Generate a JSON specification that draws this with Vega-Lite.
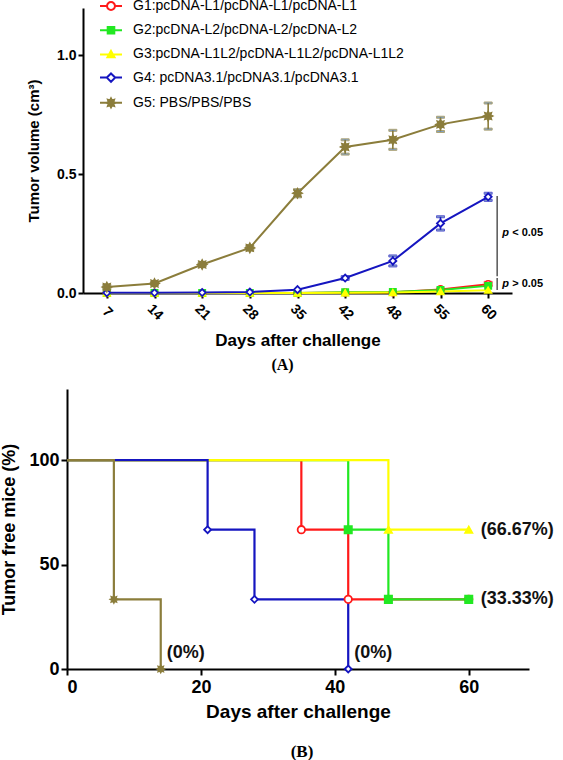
{
  "$schema": "https://vega.github.io/schema/vega-lite/v6.json",
  "background": "white",
  "padding": {"left": 0, "top": -6, "right": 0, "bottom": 0},
  "spacing": 16,
  "resolve": {
    "scale": {"x": "independent", "y": "independent", "color": "independent", "stroke": "independent", "fill": "independent", "shape": "independent", "size": "independent"},
    "legend": {"color": "independent", "stroke": "independent", "fill": "independent", "shape": "independent", "size": "independent"}
  },
  "datasets": {
    "a": [
      {"g": "G1", "d": 7, "v": 0}, {"g": "G1", "d": 14, "v": 0}, {"g": "G1", "d": 21, "v": 0}, {"g": "G1", "d": 28, "v": 0}, {"g": "G1", "d": 35, "v": 0},
      {"g": "G1", "d": 42, "v": 0.002}, {"g": "G1", "d": 48, "v": 0.003}, {"g": "G1", "d": 55, "v": 0.015}, {"g": "G1", "d": 60, "v": 0.037, "lo": 0.03, "hi": 0.045},
      {"g": "G2", "d": 7, "v": 0}, {"g": "G2", "d": 14, "v": 0}, {"g": "G2", "d": 21, "v": 0}, {"g": "G2", "d": 28, "v": 0}, {"g": "G2", "d": 35, "v": 0},
      {"g": "G2", "d": 42, "v": 0.003}, {"g": "G2", "d": 48, "v": 0.004}, {"g": "G2", "d": 55, "v": 0.013}, {"g": "G2", "d": 60, "v": 0.03},
      {"g": "G3", "d": 7, "v": 0}, {"g": "G3", "d": 14, "v": 0}, {"g": "G3", "d": 21, "v": 0}, {"g": "G3", "d": 28, "v": 0}, {"g": "G3", "d": 35, "v": 0},
      {"g": "G3", "d": 42, "v": 0.001}, {"g": "G3", "d": 48, "v": 0.002}, {"g": "G3", "d": 55, "v": 0.006}, {"g": "G3", "d": 60, "v": 0.012},
      {"g": "G4", "d": 7, "v": 0.001}, {"g": "G4", "d": 14, "v": 0.001}, {"g": "G4", "d": 21, "v": 0.002}, {"g": "G4", "d": 28, "v": 0.004}, {"g": "G4", "d": 35, "v": 0.014},
      {"g": "G4", "d": 42, "v": 0.063, "lo": 0.057, "hi": 0.069}, {"g": "G4", "d": 48, "v": 0.135, "lo": 0.114, "hi": 0.156}, {"g": "G4", "d": 55, "v": 0.293, "lo": 0.265, "hi": 0.321}, {"g": "G4", "d": 60, "v": 0.405, "lo": 0.39, "hi": 0.42},
      {"g": "G5", "d": 7, "v": 0.025, "lo": 0.017, "hi": 0.033}, {"g": "G5", "d": 14, "v": 0.04, "lo": 0.034, "hi": 0.046}, {"g": "G5", "d": 21, "v": 0.12, "lo": 0.113, "hi": 0.127}, {"g": "G5", "d": 28, "v": 0.19, "lo": 0.183, "hi": 0.197}, {"g": "G5", "d": 35, "v": 0.42, "lo": 0.405, "hi": 0.435},
      {"g": "G5", "d": 42, "v": 0.615, "lo": 0.585, "hi": 0.645}, {"g": "G5", "d": 48, "v": 0.645, "lo": 0.605, "hi": 0.685}, {"g": "G5", "d": 55, "v": 0.71, "lo": 0.68, "hi": 0.74}, {"g": "G5", "d": 60, "v": 0.745, "lo": 0.69, "hi": 0.8}
    ],
    "b": [
      {"g": "G1", "d": 0, "p": 100, "m": 0}, {"g": "G1", "d": 35, "p": 66.67, "m": 1}, {"g": "G1", "d": 42, "p": 33.33, "m": 1}, {"g": "G1", "d": 60, "p": 33.33, "m": 1},
      {"g": "G2", "d": 0, "p": 100, "m": 0}, {"g": "G2", "d": 42, "p": 66.67, "m": 1}, {"g": "G2", "d": 48, "p": 33.33, "m": 1}, {"g": "G2", "d": 60, "p": 33.33, "m": 1},
      {"g": "G3", "d": 0, "p": 100, "m": 0}, {"g": "G3", "d": 48, "p": 66.67, "m": 1}, {"g": "G3", "d": 60, "p": 66.67, "m": 1},
      {"g": "G4", "d": 0, "p": 100, "m": 0}, {"g": "G4", "d": 21, "p": 66.67, "m": 1}, {"g": "G4", "d": 28, "p": 33.33, "m": 1}, {"g": "G4", "d": 42, "p": 0, "m": 1},
      {"g": "G5", "d": 0, "p": 100, "m": 0}, {"g": "G5", "d": 7, "p": 33.33, "m": 1}, {"g": "G5", "d": 14, "p": 0, "m": 1}
    ]
  },
  "vconcat": [
    {
      "width": 429,
      "height": 285,
      "title": {"text": "(A)", "orient": "bottom", "frame": "group", "anchor": "middle", "dx": -15, "offset": 8.5, "font": "Liberation Serif", "fontSize": 16, "fontWeight": "bold", "color": "#000"},
      "layer": [
        {
          "data": {"name": "a"},
          "mark": {"type": "line", "strokeWidth": 2},
          "encoding": {
            "x": {"field": "d", "type": "ordinal", "scale": {"type": "point", "padding": 0.5},
              "axis": {"title": "Days after challenge", "titleFontSize": 17, "labelAngle": 45, "labelAlign": "center", "labelBaseline": "middle", "labelPadding": 14, "labelFontSize": 14, "tickSize": 5, "titlePadding": 10}},
            "y": {"field": "v", "type": "quantitative", "scale": {"domain": [0, 1.2], "nice": false},
              "axis": {"title": "Tumor volume (cm³)", "values": [0, 0.5, 1], "format": ".1f", "labelFontSize": 14, "titleFontSize": 15, "tickSize": 5, "labelPadding": 2, "titlePadding": 15}},
            "color": {"field": "g", "type": "nominal",
              "scale": {"domain": ["G1", "G2", "G3", "G4", "G5"], "range": ["#ff1a1a", "#22e822", "#ffff00", "#1515c0", "#8b7d3b"]},
              "legend": {
                "orient": "none", "legendX": 16, "legendY": -14, "title": null, "padding": 0,
                "labelFont": "Liberation Sans", "labelFontSize": 14, "labelFontWeight": "normal", "labelColor": "#000",
                "symbolSize": 484, "symbolStrokeWidth": 2, "rowPadding": 4.2, "labelOffset": 10, "labelLimit": 400,
                "labelExpr": "datum.label == 'G1' ? 'G1:pcDNA-L1/pcDNA-L1/pcDNA-L1' : datum.label == 'G2' ? 'G2:pcDNA-L2/pcDNA-L2/pcDNA-L2' : datum.label == 'G3' ? 'G3:pcDNA-L1L2/pcDNA-L1L2/pcDNA-L1L2' : datum.label == 'G4' ? 'G4: pcDNA3.1/pcDNA3.1/pcDNA3.1' : 'G5: PBS/PBS/PBS'",
                "encoding": {
                  "symbols": {
                    "shape": {"value": {"signal": "datum.value == 'G1' ? 'M-1,0H-0.36M0.36,0H1M-0.36,0A0.36,0.36 0 1,0 0.36,0A0.36,0.36 0 1,0 -0.36,0Z' : datum.value == 'G2' ? 'M-1,0H1M-0.3,-0.3H0.3V0.3H-0.3Z' : datum.value == 'G3' ? 'M-1,0H1M0,-0.32L0.32,0.25H-0.32Z' : datum.value == 'G4' ? 'M-1,0H-0.38M0.38,0H1M0,-0.38L0.38,0L0,0.38L-0.38,0Z' : 'M-1,0H1M0.4,0L0.22,0.09L0.28,0.28L0.09,0.22L0,0.4L-0.09,0.22L-0.28,0.28L-0.22,0.09L-0.4,0L-0.22,-0.09L-0.28,-0.28L-0.09,-0.22L0,-0.4L0.09,-0.22L0.28,-0.28L0.22,-0.09Z'"}},
                    "fill": {"value": {"signal": "datum.value == 'G1' ? 'white' : datum.value == 'G2' ? '#22e822' : datum.value == 'G3' ? '#ffff00' : datum.value == 'G4' ? 'white' : '#8b7d3b'"}},
                    "size": {"value": 484},
                    "strokeWidth": {"value": 2},
                    "opacity": {"value": 1}
                  }
                }
              }
            }
          }
        },
        {
          "data": {"name": "a"},
          "mark": {"type": "rule", "strokeWidth": 1.6},
          "encoding": {
            "x": {"field": "d", "type": "ordinal"},
            "y": {"field": "lo", "type": "quantitative"},
            "y2": {"field": "hi"},
            "stroke": {"field": "g", "type": "nominal", "legend": null, "scale": {"domain": ["G1", "G2", "G3", "G4", "G5"], "range": ["#ff1a1a", "#22e822", "#ffff00", "#1515c0", "#8b7d3b"]}}
          }
        },
        {
          "data": {"name": "a"},
          "mark": {"type": "tick", "size": 8, "thickness": 2},
          "encoding": {
            "x": {"field": "d", "type": "ordinal"},
            "y": {"field": "lo", "type": "quantitative"},
            "stroke": {"field": "g", "type": "nominal", "legend": null}
          }
        },
        {
          "data": {"name": "a"},
          "mark": {"type": "tick", "size": 8, "thickness": 2},
          "encoding": {
            "x": {"field": "d", "type": "ordinal"},
            "y": {"field": "hi", "type": "quantitative"},
            "stroke": {"field": "g", "type": "nominal", "legend": null}
          }
        },
        {
          "data": {"name": "a"},
          "transform": [{"filter": "datum.g == 'G1'"}],
          "mark": {"type": "point", "shape": "circle", "filled": true, "fill": "white", "stroke": "#ff1a1a", "size": 50, "strokeWidth": 1.6, "opacity": 1},
          "encoding": {"x": {"field": "d", "type": "ordinal"}, "y": {"field": "v", "type": "quantitative"}}
        },
        {
          "data": {"name": "a"},
          "transform": [{"filter": "datum.g == 'G2'"}],
          "mark": {"type": "point", "shape": "square", "filled": true, "fill": "#22e822", "stroke": "#22e822", "size": 40, "strokeWidth": 1.6, "opacity": 1},
          "encoding": {"x": {"field": "d", "type": "ordinal"}, "y": {"field": "v", "type": "quantitative"}}
        },
        {
          "data": {"name": "a"},
          "transform": [{"filter": "datum.g == 'G3'"}],
          "mark": {"type": "point", "shape": "triangle-up", "filled": true, "fill": "#ffff00", "stroke": "#ffff00", "size": 45, "strokeWidth": 1.6, "opacity": 1},
          "encoding": {"x": {"field": "d", "type": "ordinal"}, "y": {"field": "v", "type": "quantitative"}}
        },
        {
          "data": {"name": "a"},
          "transform": [{"filter": "datum.g == 'G4'"}],
          "mark": {"type": "point", "shape": "diamond", "filled": true, "fill": "white", "stroke": "#1515c0", "size": 50, "strokeWidth": 1.8, "opacity": 1},
          "encoding": {"x": {"field": "d", "type": "ordinal"}, "y": {"field": "v", "type": "quantitative"}}
        },
        {
          "data": {"name": "a"},
          "transform": [{"filter": "datum.g == 'G5'"}],
          "mark": {"type": "point", "shape": "M1,0L0.55,0.23L0.71,0.71L0.23,0.55L0,1L-0.23,0.55L-0.71,0.71L-0.55,0.23L-1,0L-0.55,-0.23L-0.71,-0.71L-0.23,-0.55L0,-1L0.23,-0.55L0.71,-0.71L0.55,-0.23Z", "filled": true, "fill": "#8b7d3b", "stroke": "#8b7d3b", "size": 100, "strokeWidth": 1.2, "opacity": 1},
          "encoding": {"x": {"field": "d", "type": "ordinal"}, "y": {"field": "v", "type": "quantitative"}}
        },
        {
          "data": {"values": [{"d": 60, "y1": 0.071, "y2": 0.408}, {"d": 60, "y1": 0.013, "y2": 0.063}]},
          "mark": {"type": "rule", "xOffset": 9, "color": "#555555", "strokeWidth": 1.5},
          "encoding": {
            "x": {"field": "d", "type": "ordinal"},
            "y": {"field": "y1", "type": "quantitative"},
            "y2": {"field": "y2"}
          }
        },
        {
          "data": {"values": [{"d": 60, "y": 0.252, "p": "p", "rest": "< 0.05"}, {"d": 60, "y": 0.038, "p": "p", "rest": "> 0.05"}]},
          "mark": {"type": "text", "align": "left", "baseline": "middle", "dx": 14, "font": "Liberation Sans", "fontSize": 11, "fontWeight": "bold", "fontStyle": "italic", "color": "#000"},
          "encoding": {
            "x": {"field": "d", "type": "ordinal"},
            "y": {"field": "y", "type": "quantitative"},
            "text": {"field": "p"}
          }
        },
        {
          "data": {"values": [{"d": 60, "y": 0.252, "p": "p", "rest": "< 0.05"}, {"d": 60, "y": 0.038, "p": "p", "rest": "> 0.05"}]},
          "mark": {"type": "text", "align": "left", "baseline": "middle", "dx": 24, "font": "Liberation Sans", "fontSize": 11, "fontWeight": "bold", "color": "#000"},
          "encoding": {
            "x": {"field": "d", "type": "ordinal"},
            "y": {"field": "y", "type": "quantitative"},
            "text": {"field": "rest"}
          }
        }
      ]
    },
    {
      "width": 446,
      "height": 280,
      "title": {"text": "(B)", "orient": "bottom", "frame": "group", "anchor": "middle", "dx": -4, "offset": 23, "font": "Liberation Serif", "fontSize": 17, "fontWeight": "bold", "color": "#000"},
      "layer": [
        {
          "data": {"name": "b"},
          "mark": {"type": "line", "interpolate": "step-after", "strokeWidth": 2.2},
          "encoding": {
            "x": {"field": "d", "type": "quantitative", "scale": {"domain": [0, 69], "range": [-16, 446], "nice": false},
              "axis": {"title": "Days after challenge", "titleFontSize": 19, "labelFontSize": 18, "tickSize": 6, "labelPadding": 3, "titlePadding": 6, "values": [0, 20, 40, 60]}},
            "y": {"field": "p", "type": "quantitative", "scale": {"domain": [0, 134], "nice": false},
              "axis": {"title": "Tumor free mice (%)", "titleFontSize": 18, "labelFontSize": 18, "tickSize": 6, "labelPadding": 2, "titlePadding": 10, "values": [0, 50, 100], "offset": 16}},
            "stroke": {"field": "g", "type": "nominal", "legend": null,
              "scale": {"domain": ["G1", "G2", "G3", "G4", "G5"], "range": ["#ff1a1a", "#22e822", "#ffff00", "#1515c0", "#8b7d3b"]}}
          }
        },
        {
          "data": {"name": "b"},
          "transform": [{"filter": "datum.m == 1"}],
          "mark": {"type": "point", "filled": true, "strokeWidth": 1.8, "opacity": 1},
          "encoding": {
            "x": {"field": "d", "type": "quantitative"},
            "y": {"field": "p", "type": "quantitative"},
            "shape": {"field": "g", "type": "nominal", "legend": null, "scale": {"domain": ["G1", "G2", "G3", "G4", "G5"], "range": ["circle", "square", "triangle-up", "diamond", "M1,0L0.55,0.23L0.71,0.71L0.23,0.55L0,1L-0.23,0.55L-0.71,0.71L-0.55,0.23L-1,0L-0.55,-0.23L-0.71,-0.71L-0.23,-0.55L0,-1L0.23,-0.55L0.71,-0.71L0.55,-0.23Z"]}},
            "fill": {"field": "g", "type": "nominal", "legend": null, "scale": {"domain": ["G1", "G2", "G3", "G4", "G5"], "range": ["white", "#22e822", "#ffff00", "white", "#8b7d3b"]}},
            "stroke": {"field": "g", "type": "nominal", "legend": null},
            "size": {"field": "g", "type": "nominal", "legend": null, "scale": {"domain": ["G1", "G2", "G3", "G4", "G5"], "range": [55, 45, 50, 55, 110]}}
          }
        },
        {
          "data": {"values": [{"d": 60, "p": 66.67, "t": "(66.67%)"}, {"d": 60, "p": 33.33, "t": "(33.33%)"}]},
          "mark": {"type": "text", "align": "left", "baseline": "middle", "dx": 12, "font": "Liberation Sans", "fontSize": 18, "fontWeight": "bold", "color": "#111"},
          "encoding": {
            "x": {"field": "d", "type": "quantitative"},
            "y": {"field": "p", "type": "quantitative"},
            "text": {"field": "t"}
          }
        },
        {
          "data": {"values": [{"d": 14, "p": 0, "t": "(0%)"}, {"d": 42, "p": 0, "t": "(0%)"}]},
          "mark": {"type": "text", "align": "left", "baseline": "middle", "dx": 6, "dy": -16, "font": "Liberation Sans", "fontSize": 18, "fontWeight": "bold", "color": "#111"},
          "encoding": {
            "x": {"field": "d", "type": "quantitative"},
            "y": {"field": "p", "type": "quantitative"},
            "text": {"field": "t"}
          }
        }
      ]
    }
  ],
  "config": {
    "view": {"stroke": null},
    "axis": {"domainColor": "#000", "domainWidth": 2, "tickColor": "#000", "tickWidth": 2, "labelColor": "#000", "titleColor": "#000", "labelFont": "Liberation Sans", "titleFont": "Liberation Sans", "labelFontWeight": "bold", "titleFontWeight": "bold", "grid": false}
  }
}
